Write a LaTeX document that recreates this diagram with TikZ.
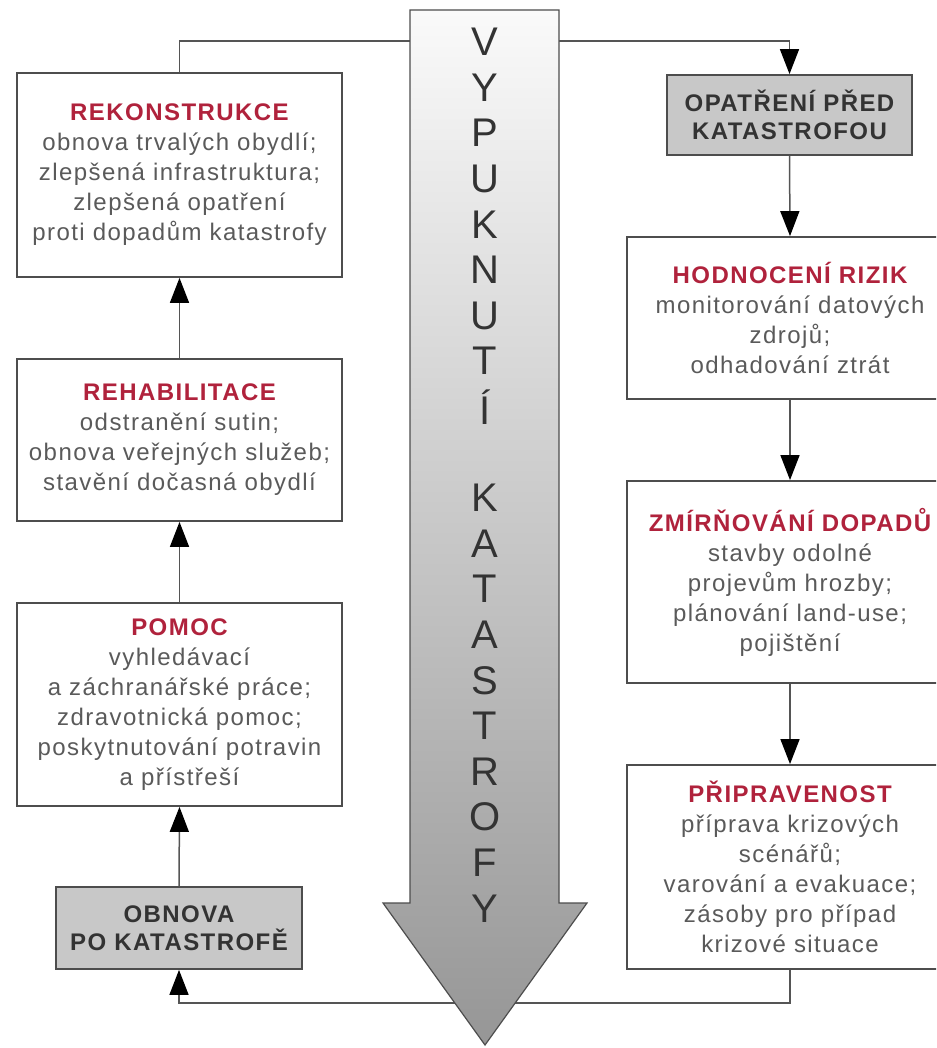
\documentclass[tikz,border=0pt]{standalone}
\usepackage{fontspec}
\setmainfont{Liberation Sans}
\newfontfamily\bodyfont{Liberation Sans}[LetterSpace=6]
\newfontfamily\arrfont{Liberation Sans}
\usetikzlibrary{arrows.meta}
\definecolor{headred}{HTML}{B0223C}
\definecolor{bodygray}{HTML}{5A5A5A}
\definecolor{darktxt}{HTML}{333333}
\definecolor{boxline}{HTML}{4D4D4D}
\definecolor{connline}{HTML}{555555}
\definecolor{grayfill}{HTML}{C8C8C8}
\definecolor{arrtop}{HTML}{FAFAFA}
\definecolor{arrbot}{HTML}{969696}
\tikzset{
  stage/.style={draw=boxline, line width=1.8pt, fill=white, inner sep=0pt,
    align=center, text=bodygray, font=\bodyfont\fontsize{24}{30}\selectfont},
  phase/.style={draw=boxline, line width=1.8pt, fill=grayfill, inner sep=0pt,
    align=center, text=darktxt, font=\bodyfont\bfseries\fontsize{24}{28}\selectfont},
  conn/.style={draw=connline, line width=1.5pt,
    -{Triangle[width=19pt,length=25pt,color=black]}},
  letter/.style={text=darktxt, font=\arrfont\fontsize{40}{40}\selectfont, inner sep=0pt}
}
\newcommand{\hdr}[1]{{\bfseries\color{headred}#1}}
\begin{document}
\begin{tikzpicture}[x=1pt,y=-1pt]
\useasboundingbox (0,0) rectangle (936,1048);
\fill[white] (0,0) rectangle (936,1048);
\begin{scope}
\clip (0,0) rectangle (936,1048);
% left column
\node[stage, minimum width=325pt, minimum height=204pt] (rek) at (179.5,175)
  {\hdr{REKONSTRUKCE}\\ obnova trvalých obydlí;\\ zlepšená infrastruktura;\\ zlepšená opatření\\ proti dopadům katastrofy};
\node[stage, minimum width=325pt, minimum height=162pt] (reh) at (179.5,440)
  {\hdr{REHABILITACE}\\ odstranění sutin;\\ obnova veřejných služeb;\\ stavění dočasná obydlí};
\node[stage, minimum width=325pt, minimum height=203pt] (pom) at (179.5,704.5)
  {\hdr{POMOC}\\ vyhledávací\\ a záchranářské práce;\\ zdravotnická pomoc;\\ poskytnutování potravin\\ a přístřeší};
\node[phase, minimum width=246pt, minimum height=82pt] (obn) at (179,928)
  {OBNOVA\\ PO KATASTROFĚ};
% right column
\node[phase, minimum width=245pt, minimum height=80pt] (opa) at (789.5,115)
  {OPATŘENÍ PŘED\\ KATASTROFOU};
\node[stage, minimum width=326pt, minimum height=162pt] (hod) at (790,318)
  {\hdr{HODNOCENÍ RIZIK}\\ monitorování datových\\ zdrojů;\\ odhadování ztrát};
\node[stage, minimum width=326pt, minimum height=202pt] (zmi) at (790,582)
  {\hdr{ZMÍRŇOVÁNÍ DOPADŮ}\\ stavby odolné\\ projevům hrozby;\\ plánování land-use;\\ pojištění};
\node[stage, minimum width=326pt, minimum height=204pt] (pri) at (790,867)
  {\hdr{PŘIPRAVENOST}\\ příprava krizových\\ scénářů;\\ varování a evakuace;\\ zásoby pro případ\\ krizové situace};
% connectors
\draw[conn] (rek.north) -- ++(0,-31) -| (opa.north);
\draw[conn] (opa.south) -- (hod.north);
\draw[conn] (hod.south) -- (zmi.north);
\draw[conn] (zmi.south) -- (pri.north);
\draw[conn] (pri.south) -- ++(0,33) -| (obn.south);
\draw[conn] (obn.north) -- (pom.south);
\draw[conn] (pom.north) -- (reh.south);
\draw[conn] (reh.north) -- (rek.south);
% big arrow
\shadedraw[top color=arrtop, bottom color=arrbot, draw=boxline, line width=1.2pt]
  (410,10) -- (559,10) -- (559,903) -- (587,903) -- (485,1045) -- (383,903) -- (410,903) -- cycle;
\foreach \ch [count=\i from 0] in {V,Y,P,U,K,N,U,T,Í,{},K,A,T,A,S,T,R,O,F,Y}{
  \node[letter] (l\i) at (485,{42+45.6*\i}) {\ch};
}
\end{scope}
\end{tikzpicture}
\end{document}
